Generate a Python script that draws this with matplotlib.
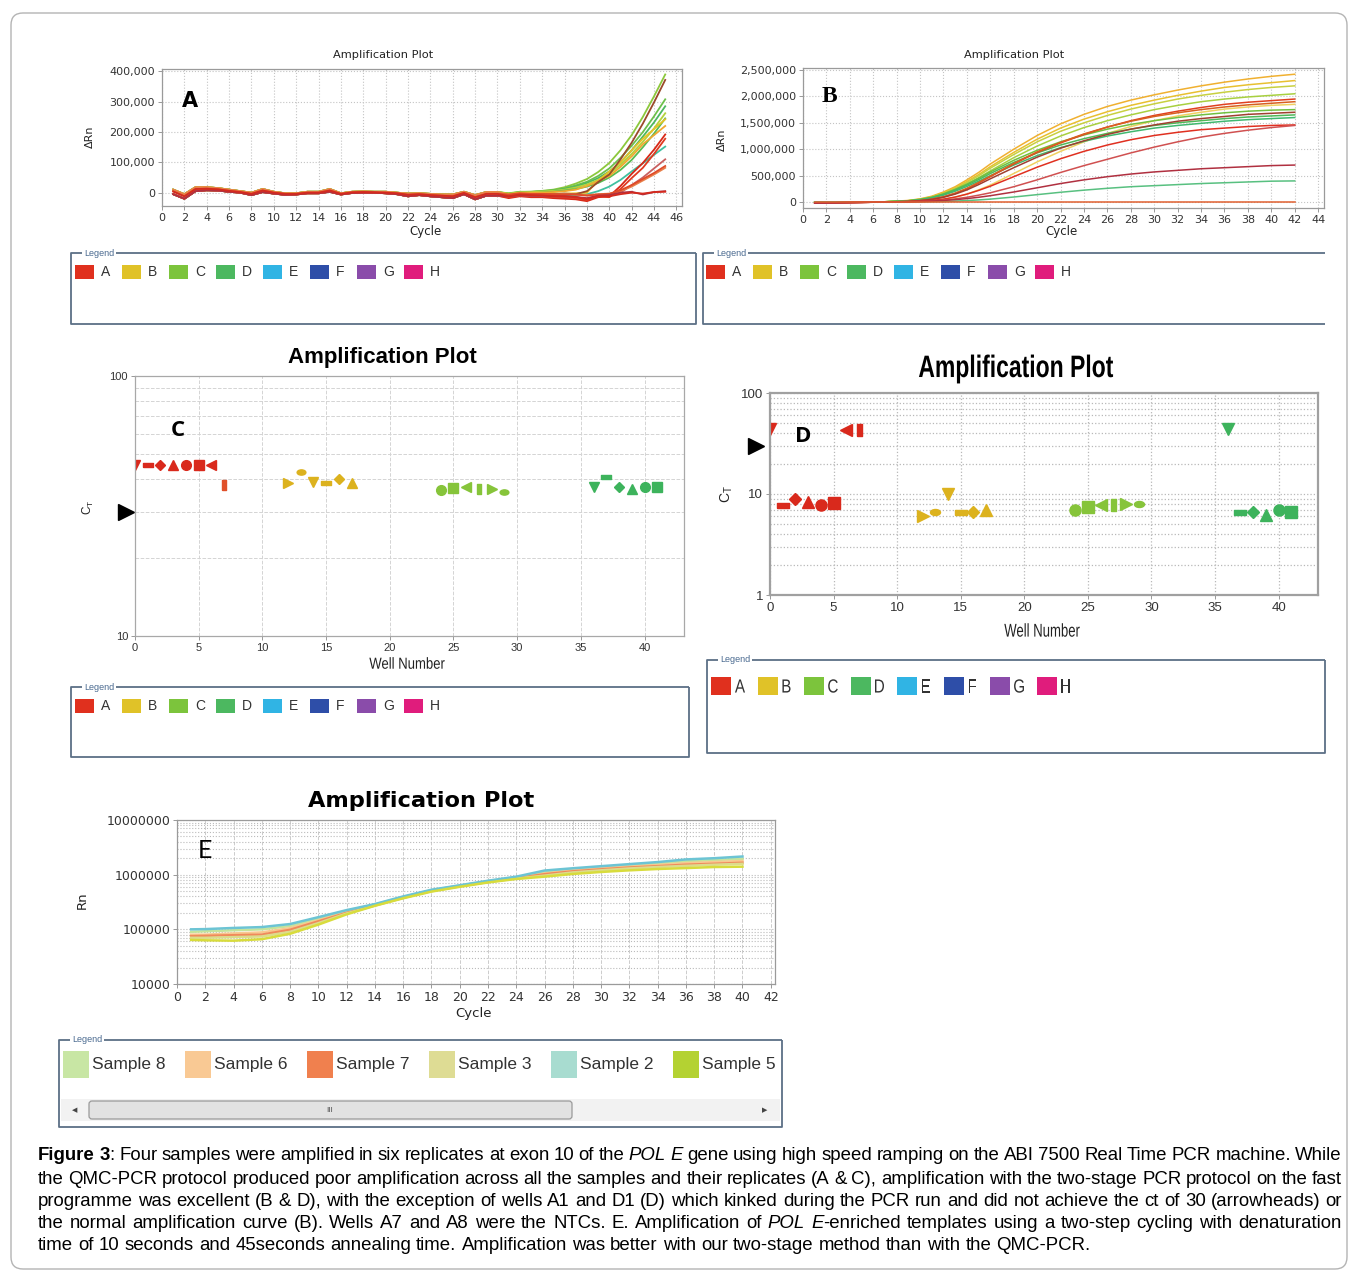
import numpy as np
import matplotlib
matplotlib.use('Agg')
import matplotlib.pyplot as plt
from matplotlib.path import Path
from matplotlib.transforms import Affine2D
from matplotlib.patches import Rectangle, FancyBboxPatch, PathPatch
from matplotlib.textpath import TextPath
from matplotlib.font_manager import FontProperties
from matplotlib.ticker import LogLocator, FuncFormatter, NullFormatter

W, H = 1358, 1276
ARIAL = 'Liberation Sans'

# ---------------- data ----------------
# Panel A: delta Rn (thousands), shared baseline for cycles 1-30, per-well tails for 31-45
a_cycles = np.arange(1, 46)
a_base_hi = [10, -5, 18, 18, 15, 10, 5, 0, 12, 3, -2, -2, 3, 3, 12, -2, 3, 4, 3, 3, 0, -3, -2, -4, -6, -6, 3, -8, 2, 2]
a_base_mid = [4, -12, 12, 13, 11, 6, 2, -4, 7, 0, -4, -4, 0, 0, 7, -4, 1, 2, 1, 0, -2, -7, -5, -8, -10, -12, -1, -15, -4, -4]
a_base_lo = [-5, -20, 5, 8, 7, 3, 0, -8, 2, -3, -7, -6, -2, -2, 3, -6, -1, 0, 0, -2, -5, -12, -8, -12, -15, -18, -5, -22, -10, -10]
a_tails = [
    [-2, 3, 3, 6, 10, 18, 30, 45, 68, 98, 140, 190, 250, 318, 390],
    [-3, 2, 3, 5, 8, 14, 24, 36, 55, 80, 115, 155, 200, 252, 308],
    [-4, 1, 2, 4, 7, 12, 20, 32, 48, 70, 100, 140, 185, 232, 285],
    [-3, 1, 2, 4, 6, 10, 17, 27, 42, 62, 92, 128, 168, 212, 262],
    [-8, -3, -2, 0, 3, 7, 12, 20, 32, 50, 75, 108, 150, 195, 245],
    [-10, -8, -8, -8, -10, -10, -8, -5, 5, 20, 42, 70, 97, 125, 152],
    [-8, -5, -5, -5, -4, -3, -2, 0, 40, 70, 100, 140, 178, 210, 242],
    [-5, 0, 0, 0, 2, 5, 10, 22, 38, 55, 85, 120, 160, 190, 220],
    [-10, -5, -5, -5, -5, -3, -5, 5, 35, 60, 110, 165, 228, 298, 372],
    [-18, -12, -15, -15, -18, -20, -22, -28, -15, -12, 22, 62, 98, 142, 192],
    [-15, -10, -12, -12, -15, -16, -18, -24, -12, -15, 12, 48, 82, 128, 178],
    [-12, -8, -10, -10, -12, -12, -15, -20, -10, -10, 0, 25, 50, 80, 110],
    [-8, -5, -5, -5, -6, -5, -6, -8, -5, -3, 5, 20, 40, 60, 82],
    [-6, -2, -4, -4, -5, -6, -6, -10, -6, -4, 8, 25, 45, 65, 88],
    [-12, -8, -10, -10, -12, -12, -14, -18, -10, -8, 0, 3, -6, 2, 5],
    [-12, -6, -8, -9, -11, -12, -15, -22, -12, -12, -5, 0, -3, 2, 3],
]
a_base_of = ['hi', 'hi', 'hi', 'hi', 'lo', 'lo', 'lo', 'hi', 'lo', 'lo', 'lo', 'lo', 'hi', 'mid', 'lo', 'mid']
a_colors = ['#8cc83c', '#6cc04a', '#4cb860', '#b4d23c', '#58bc50', '#40c0a0', '#e6c228', '#f0a830',
            '#9a4a2a', '#d82818', '#e03a20', '#c86060', '#e8804a', '#e04a28', '#b03040', '#d42a1e']

# Panel B: delta Rn (thousands)
b_cycles = [1, 4, 7, 9, 10, 11, 12, 13, 14, 15, 16, 18, 20, 22, 24, 26, 28, 30, 32, 34, 36, 38, 40, 42]
b_curves = [
    [0, 0, 5, 30, 60, 110, 190, 290, 420, 560, 720, 1000, 1260, 1480, 1660, 1810, 1930, 2030, 2120, 2200, 2270, 2330, 2380, 2420],
    [0, 0, 5, 25, 55, 100, 175, 270, 390, 520, 670, 940, 1190, 1400, 1570, 1710, 1830, 1930, 2020, 2100, 2170, 2220, 2260, 2300],
    [0, 0, 5, 25, 50, 95, 165, 255, 370, 495, 640, 900, 1140, 1340, 1500, 1640, 1760, 1860, 1950, 2020, 2080, 2130, 2170, 2200],
    [0, 0, 4, 22, 45, 85, 150, 235, 340, 460, 590, 840, 1060, 1250, 1410, 1540, 1650, 1750, 1830, 1900, 1950, 1990, 2020, 2050],
    [0, 0, 0, 5, 12, 25, 50, 90, 150, 230, 320, 540, 760, 960, 1140, 1300, 1430, 1540, 1630, 1700, 1760, 1800, 1830, 1850],
    [0, 0, 5, 25, 50, 90, 155, 240, 340, 450, 570, 790, 980, 1140, 1270, 1380, 1470, 1540, 1600, 1650, 1690, 1720, 1740, 1750],
    [0, 0, 5, 20, 45, 85, 145, 225, 320, 425, 540, 750, 930, 1080, 1200, 1300, 1380, 1450, 1500, 1540, 1580, 1610, 1630, 1650],
    [0, 0, 4, 18, 40, 75, 130, 205, 295, 395, 500, 700, 880, 1030, 1150, 1250, 1330, 1400, 1450, 1490, 1530, 1560, 1580, 1600],
    [0, 0, 0, 0, 2, 5, 10, 18, 28, 40, 55, 95, 140, 185, 225, 260, 290, 310, 330, 350, 365, 380, 395, 400],
    [-20, -10, 0, 10, 25, 50, 95, 160, 250, 360, 480, 720, 940, 1120, 1280, 1420, 1540, 1640, 1720, 1790, 1850, 1890, 1920, 1950],
    [-20, -10, 0, 12, 28, 55, 100, 170, 260, 370, 490, 730, 950, 1130, 1290, 1420, 1530, 1620, 1690, 1750, 1800, 1840, 1870, 1900],
    [-20, -10, 0, 10, 25, 50, 90, 150, 230, 330, 440, 650, 850, 1020, 1160, 1280, 1380, 1460, 1530, 1580, 1620, 1660, 1680, 1700],
    [-20, -10, 0, 5, 15, 30, 55, 95, 150, 220, 300, 480, 660, 820, 960, 1080, 1180, 1260, 1320, 1370, 1400, 1430, 1450, 1460],
    [-20, -10, 0, 5, 10, 20, 35, 60, 90, 130, 175, 290, 420, 560, 690, 810, 930, 1040, 1140, 1230, 1300, 1360, 1410, 1450],
    [-20, -10, 0, 5, 10, 18, 30, 45, 65, 90, 120, 190, 270, 350, 420, 480, 530, 570, 600, 630, 650, 670, 690, 700],
    [0, 0, 0, 0, 0, 0, 0, 0, 0, 0, 0, 0, 0, 0, 0, 0, 0, 0, 0, 0, 0, 0, 0, 0],
]
b_colors = ['#f0b030', '#e8c030', '#c8d040', '#a8d040', '#f0d060', '#70c040', '#50b858', '#40b870',
            '#58c080', '#e04020', '#d86020', '#a04030', '#e03020', '#d05050', '#b03040', '#e06030']

# Panels C and D: Ct per well
wells = [0, 1, 2, 3, 4, 5, 6, 7, 12, 13, 14, 15, 16, 17, 24, 25, 26, 27, 28, 29, 36, 37, 38, 39, 40, 41]
c_ct = [45.5, 45.5, 45.5, 45.5, 45.5, 45.5, 45.5, 38.0, 38.8, 42.6, 39.0, 38.8, 40.0, 38.8,
        36.3, 37.1, 37.3, 36.8, 36.8, 35.9, 37.5, 40.8, 37.3, 36.7, 37.3, 37.3]
d_ct = [44.0, 7.8, 8.9, 8.4, 7.8, 8.2, 42.6, 42.6, 6.0, 6.6, 10.0, 6.6, 6.7, 6.9,
        7.0, 7.4, 7.8, 7.8, 8.0, 8.0, 44.0, 6.6, 6.7, 6.2, 6.9, 6.6]
threshold_ct = 30
well_group = ['A'] * 8 + ['B'] * 6 + ['C'] * 6 + ['D'] * 6
well_marker = ['v', 'hr', 'D', '^', 'o', 's', '<', 'vr', '>', 'el', 'v', 'hr', 'D', '^',
               'o', 's', '<', 'vr', '>', 'el', 'v', 'hr', 'D', '^', 'o', 's']
group_color = {'A': '#d9291c', 'B': '#dcb21e', 'C': '#86c43a', 'D': '#3db35c'}

# Panel E: Rn (thousands)
e_cycles = [1, 2, 4, 6, 8, 10, 12, 14, 16, 18, 20, 22, 24, 26, 28, 30, 32, 34, 36, 38, 40]
e_samples = ['Sample 8', 'Sample 6', 'Sample 7', 'Sample 3', 'Sample 2', 'Sample 5']
e_curves = [
    [90, 92, 96, 100, 115, 155, 215, 285, 390, 520, 630, 760, 890, 1100, 1250, 1350, 1480, 1600, 1750, 1850, 1950],
    [80, 80, 84, 88, 105, 145, 205, 280, 385, 510, 620, 745, 870, 1050, 1200, 1300, 1400, 1500, 1620, 1700, 1780],
    [75, 76, 78, 80, 98, 140, 200, 275, 380, 505, 615, 740, 860, 1020, 1150, 1250, 1350, 1430, 1520, 1580, 1650],
    [70, 70, 72, 74, 90, 130, 195, 272, 375, 500, 610, 735, 850, 960, 1100, 1200, 1300, 1380, 1450, 1520, 1580],
    [100, 101, 106, 110, 125, 167, 225, 290, 400, 530, 640, 775, 920, 1190, 1310, 1430, 1560, 1700, 1900, 2000, 2150],
    [64, 63, 62, 66, 83, 122, 188, 270, 370, 490, 600, 720, 835, 920, 1030, 1120, 1200, 1270, 1320, 1380, 1400],
]
e_colors = ['#c4e49c', '#f8c890', '#f08a5a', '#dcdc8c', '#6cc4d4', '#d8dc3c']
e_legend_colors = ['#c8e6a4', '#f9c994', '#f0804e', '#dedc94', '#a8dcd0', '#b4d232']

legend_labels = ['A', 'B', 'C', 'D', 'E', 'F', 'G', 'H']
legend_colors = ['#e0301e', '#e0c228', '#7cc43c', '#4cb860', '#30b4e4', '#2e4ea8', '#8a4caa', '#e01c7c']

caption = [
    [("Figure 3", "bold"), (": Four samples were amplified in six replicates at exon 10 of the ", "normal"),
     ("POL E", "italic"), (" gene using high speed ramping on the ABI 7500 Real Time PCR machine. While", "normal")],
    [("the QMC-PCR protocol produced poor amplification across all the samples and their replicates (A & C), "
      "amplification with the two-stage PCR protocol on the fast", "normal")],
    [("programme was excellent (B & D), with the exception of wells A1 and D1 (D) which kinked during the PCR run "
      "and did not achieve the ct of 30 (arrowheads) or", "normal")],
    [("the normal amplification curve (B). Wells A7 and A8 were the NTCs. E. Amplification of ", "normal"),
     ("POL E", "italic"), ("-enriched templates using a two-step cycling with denaturation", "normal")],
    [("time of 10 seconds and 45seconds annealing time. Amplification was better with our two-stage method "
      "than with the QMC-PCR.", "normal")],
]

# ---------------- figure ----------------
fig = plt.figure(figsize=(W / 100, H / 100), dpi=100)
fig.patch.set_facecolor('white')


def px_axes(l, t, r, b):
    return fig.add_axes([l / W, 1 - b / H, (r - l) / W, (b - t) / H])


def style_ticks(ax, family, size, spine='#9a9a9a'):
    ax.tick_params(which='major', labelsize=size, length=3, width=0.6, color='#888888',
                   pad=2, labelcolor='#333333')
    ax.tick_params(which='minor', length=0)
    for lbl in ax.get_xticklabels() + ax.get_yticklabels():
        lbl.set_fontfamily(family)
    for s in ax.spines.values():
        s.set_color(spine)
        s.set_linewidth(0.9)


# Panel A
axA = px_axes(162, 69, 682, 206)
bases = {'hi': a_base_hi, 'mid': a_base_mid, 'lo': a_base_lo}
for base, tail, col in zip(a_base_of, a_tails, a_colors):
    y = np.concatenate([bases[base], tail]) * 1000
    axA.plot(a_cycles, y, color=col, lw=1.3)
axA.set_xlim(0, 46.5)
axA.set_ylim(-44000, 408000)
axA.set_xticks(range(0, 47, 2))
axA.set_yticks([0, 100000, 200000, 300000, 400000])
axA.yaxis.set_major_formatter(FuncFormatter(lambda v, p: f'{v:,.0f}'))
axA.grid(True, ls=':', color='#c4c4c4', lw=0.8)
style_ticks(axA, 'DejaVu Sans', 8)

# Panel B
axB = px_axes(803, 68, 1324, 208)
for ys, col in zip(b_curves, b_colors):
    axB.plot(b_cycles, np.array(ys) * 1000, color=col, lw=1.1)
axB.set_xlim(0, 44.5)
axB.set_ylim(-113000, 2538000)
axB.set_xticks(range(0, 45, 2))
axB.set_yticks([0, 500000, 1000000, 1500000, 2000000, 2500000])
axB.yaxis.set_major_formatter(FuncFormatter(lambda v, p: f'{v:,.0f}'))
axB.grid(True, ls=':', color='#c4c4c4', lw=0.8)
style_ticks(axB, 'DejaVu Sans', 8)

# custom markers
hrect = [(-1, -0.45), (1, -0.45), (1, 0.45), (-1, 0.45), (-1, -0.45)]
vrect = [(-0.45, -1), (0.45, -1), (0.45, 1), (-0.45, 1), (-0.45, -1)]
ellipse = Path.unit_circle().transformed(Affine2D().scale(1, 0.6))
marker_map = {'hr': hrect, 'vr': vrect, 'el': ellipse}
marker_scale = {'D': 0.8, 'el': 0.9}


def ct_panel(ax, cts, ms, orange7):
    for i, (w, ct) in enumerate(zip(wells, cts)):
        col = group_color[well_group[i]]
        if orange7 and w == 7:
            col = '#e0502a'
        key = well_marker[i]
        mk = marker_map.get(key, key)
        ax.plot([w], [ct], marker=mk, ms=ms * marker_scale.get(key, 1.0), color=col, mec=col, ls='none')
    ax.set_yscale('log')
    ax.set_xlim(0, 43.1)
    ax.set_xticks(range(0, 41, 5))
    ax.yaxis.set_minor_locator(LogLocator(base=10, subs=np.arange(2, 10)))
    ax.yaxis.set_minor_formatter(NullFormatter())
    ax.yaxis.set_major_formatter(FuncFormatter(lambda v, p: f'{v:g}'))


# Panel C
axC = px_axes(135, 376, 684, 636)
ct_panel(axC, c_ct, 7, True)
axC.set_ylim(10, 100)
axC.set_yticks([10, 100])
axC.grid(True, which='major', axis='x', ls='--', color='#d4d4d4', lw=0.7)
axC.grid(True, which='both', axis='y', ls='--', color='#d4d4d4', lw=0.7)
axC.plot([-0.016], [threshold_ct], marker='>', ms=11, color='black', ls='none',
         transform=axC.get_yaxis_transform(), clip_on=False)
style_ticks(axC, ARIAL, 8, spine='#a8a8a8')

# Panel D
axD = px_axes(770, 393, 1318, 595)
ct_panel(axD, d_ct, 8, False)
axD.set_ylim(1, 100)
axD.set_yticks([1, 10, 100])
axD.grid(True, which='major', axis='x', ls=':', color='#b8b8b8', lw=0.9)
axD.grid(True, which='both', axis='y', ls=':', color='#b8b8b8', lw=0.9)
axD.plot([-0.026], [threshold_ct], marker='>', ms=11, color='black', ls='none',
         transform=axD.get_yaxis_transform(), clip_on=False)
style_ticks(axD, ARIAL, 9.5, spine='#a0a0a0')
for s in axD.spines.values():
    s.set_linewidth(1.6)

# Panel E
axE = px_axes(177, 820, 775, 984)
for ys, col in zip(e_curves, e_colors):
    axE.plot(e_cycles, np.array(ys) * 1000, color=col, lw=1.8)
axE.set_yscale('log')
axE.set_xlim(0, 42.3)
axE.set_ylim(1e4, 1e7)
axE.set_xticks(range(0, 43, 2))
axE.set_yticks([1e4, 1e5, 1e6, 1e7])
axE.yaxis.set_major_formatter(FuncFormatter(lambda v, p: f'{v:.0f}'))
axE.yaxis.set_minor_locator(LogLocator(base=10, subs=np.arange(2, 10)))
axE.yaxis.set_minor_formatter(NullFormatter())
axE.grid(True, which='major', axis='x', ls='--', color='#cccccc', lw=0.7)
axE.grid(True, which='both', axis='y', ls=':', color='#bbbbbb', lw=0.8)
style_ticks(axE, 'DejaVu Sans', 9)

# ---------------- overlay (pixel coordinates) ----------------
ov = fig.add_axes([0, 0, 1, 1], zorder=5)
ov.set_xlim(0, W)
ov.set_ylim(H, 0)
ov.axis('off')


def squeezed(x, y, s, em_px, sx, weight='normal', color='#222222', rotation=0):
    # condensed text: a font outline squeezed horizontally
    tp = TextPath((0, 0), s, size=em_px, prop=FontProperties(family=ARIAL, weight=weight))
    bb = tp.get_extents()
    tr = (Affine2D().translate(-(bb.x0 + bb.width / 2), -(bb.y0 + bb.height / 2))
          .scale(sx, -1).rotate_deg(-rotation).translate(x, y))
    ov.add_patch(PathPatch(tr.transform_path(tp), fc=color, ec='none', lw=0))


ov.add_patch(FancyBboxPatch((11, 13), 1336, 1256, boxstyle='round,pad=0,rounding_size=12',
                            fc='none', ec='#b4b4b4', lw=1))

# titles
ov.text(383, 55, 'Amplification Plot', ha='center', va='center', fontsize=8.2, family='DejaVu Sans', color='#222')
ov.text(1014, 55, 'Amplification Plot', ha='center', va='center', fontsize=8.2, family='DejaVu Sans', color='#222')
ov.text(382, 357, 'Amplification Plot', ha='center', va='center', fontsize=16, family=ARIAL, weight='bold')
squeezed(1016, 369, 'Amplification Plot', 31, 0.74, weight='bold', color='black')
ov.text(421, 801, 'Amplification Plot', ha='center', va='center', fontsize=16.2, family='DejaVu Sans', weight='bold')

# axis labels
ov.text(425, 232, 'Cycle', ha='center', va='center', fontsize=8.5, family='DejaVu Sans', color='#222')
ov.text(90, 137, 'ΔRn', ha='center', va='center', fontsize=8, rotation=90, family='DejaVu Sans', color='#222')
ov.text(1061, 232, 'Cycle', ha='center', va='center', fontsize=8.5, family='DejaVu Sans', color='#222')
ov.text(722, 140, 'ΔRn', ha='center', va='center', fontsize=8, rotation=90, family='DejaVu Sans', color='#222')
squeezed(407, 663, 'Well Number', 16, 0.82)
ov.text(88, 507, r'C$_\mathregular{T}$', ha='center', va='center', fontsize=8.5, rotation=90, family=ARIAL, color='#222')
squeezed(1042, 630, 'Well Number', 18.5, 0.71)
ov.text(727, 494, r'C$_\mathregular{T}$', ha='center', va='center', fontsize=10, rotation=90, family=ARIAL, color='#222')
ov.text(474, 1013, 'Cycle', ha='center', va='center', fontsize=9.5, family='DejaVu Sans', color='#222')
ov.text(82, 900, 'Rn', ha='center', va='center', fontsize=9.5, rotation=90, family='DejaVu Sans', color='#222')

# panel letters
ov.text(190, 101, 'A', ha='center', va='center', fontsize=15, family='DejaVu Sans', weight='bold')
ov.text(829, 96, 'B', ha='center', va='center', fontsize=17, family='Liberation Serif', weight='bold')
ov.text(178, 431, 'C', ha='center', va='center', fontsize=16, family='Open Sans', weight='bold')
ov.text(803, 437, 'D', ha='center', va='center', fontsize=16, family='Open Sans', weight='bold')
ov.text(205, 851, 'E', ha='center', va='center', fontsize=18, family='Lato')

LEG_EDGE = '#5c6f86'


def legend_frame(l, t, r, b, open_right=False):
    xs = [r, l, l, r] if open_right else [r, l, l, r, r]
    ys = [t, t, b, b] if open_right else [t, t, b, b, t]
    ov.plot(xs, ys, color=LEG_EDGE, lw=1.3, solid_capstyle='butt')
    ov.text(l + 13, t, 'Legend', ha='left', va='center', fontsize=6.5, family=ARIAL, color='#4a6a90',
            bbox=dict(fc='white', ec='none', pad=1.2))


def letter_legend(x0, yc, sw, sh, step, fsize, squeeze=None):
    for i, (lab, col) in enumerate(zip(legend_labels, legend_colors)):
        x = x0 + i * step
        ov.add_patch(Rectangle((x, yc - sh / 2), sw, sh, fc=col, ec='none'))
        if squeeze:
            squeezed(x + sw + 9, yc, lab, fsize, squeeze, color='#333333')
        else:
            ov.text(x + sw + 7, yc + 0.5, lab, ha='left', va='center', fontsize=fsize, family=ARIAL, color='#333333')


legend_frame(71, 253, 696, 324)
letter_legend(75, 272, 19, 14, 47, 10)
legend_frame(703, 253, 1325, 324, open_right=True)
letter_legend(706, 272, 19, 14, 47, 10)
legend_frame(71, 687, 689, 757)
letter_legend(75, 706, 19, 14, 47, 10)
legend_frame(707, 660, 1325, 753)
letter_legend(711, 686, 20, 18, 46.5, 19, squeeze=0.8)

# legend E with scrollbar
legend_frame(59, 1040, 782, 1127)
for i, (lab, col) in enumerate(zip(e_samples, e_legend_colors)):
    x = 63 + i * 122
    ov.add_patch(Rectangle((x, 1051), 26, 27, fc=col, ec='none'))
    ov.text(x + 29, 1065, lab, ha='left', va='center', fontsize=12.5, family=ARIAL, color='#333333')
ov.add_patch(Rectangle((61, 1099), 719, 22, fc='#f2f2f2', ec='none'))
ov.add_patch(FancyBboxPatch((89, 1101), 483, 18, boxstyle='round,pad=0,rounding_size=3',
                            fc='#e2e2e2', ec='#9a9a9a', lw=0.9))
ov.text(330, 1110, 'III', ha='center', va='center', fontsize=6, family=ARIAL, color='#555555')
ov.text(75, 1110, '◀', ha='center', va='center', fontsize=5, family='DejaVu Sans', color='#444444')
ov.text(765, 1110, '▶', ha='center', va='center', fontsize=5, family='DejaVu Sans', color='#444444')

# ---------------- caption (justified) ----------------
renderer = fig.canvas.get_renderer()
CAP_SIZE = 13.4


def cap_kw(st):
    kw = dict(fontsize=CAP_SIZE, family=ARIAL, color='black', va='center', ha='left')
    if st == 'bold':
        kw['weight'] = 'bold'
    if st == 'italic':
        kw['style'] = 'italic'
    return kw


def measure(s, st):
    t = ov.text(0, 0, s, **cap_kw(st))
    w = t.get_window_extent(renderer).width
    t.remove()
    return w


space_w = measure('a a', 'normal') - measure('aa', 'normal')
x_left, x_right = 38, 1342
line_y = [1156, 1179, 1201, 1223, 1246]
for li, parts in enumerate(caption):
    words, cur = [], []
    for text, st in parts:
        for j, chunk in enumerate(text.split(' ')):
            if j > 0 and cur:
                words.append(cur)
                cur = []
            if chunk:
                cur.append((chunk, st))
    if cur:
        words.append(cur)
    widths = [[measure(c, st) for c, st in wd] for wd in words]
    total = sum(sum(w) for w in widths)
    last = li == len(caption) - 1
    gap = space_w if last else (x_right - x_left - total) / (len(words) - 1)
    x = x_left
    for wd, ws in zip(words, widths):
        for (c, st), w in zip(wd, ws):
            ov.text(x, line_y[li], c, **cap_kw(st))
            x += w
        x += gap

fig.savefig('out.png', dpi=100, facecolor='white')
plt.close(fig)
